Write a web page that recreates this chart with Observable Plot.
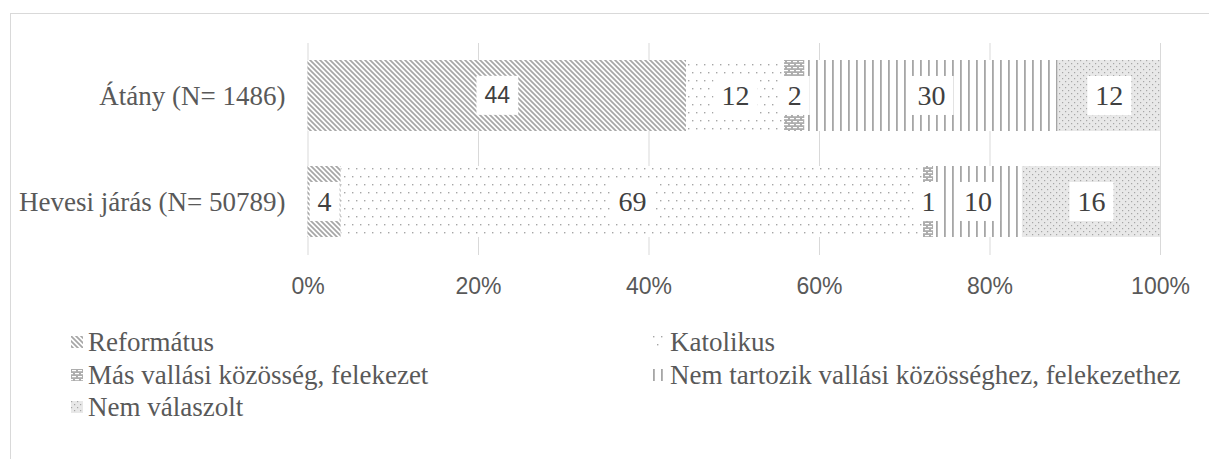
<!DOCTYPE html>
<html><head><meta charset="utf-8">
<script src="https://cdn.jsdelivr.net/npm/d3@7"></script>
<script src="https://cdn.jsdelivr.net/npm/@observablehq/plot@0.6"></script>
<style>
html,body{margin:0;padding:0;background:#fff;overflow:hidden;}
#frame{position:absolute;left:10px;top:13px;width:1400px;height:800px;border-left:1px solid #d9d9d9;border-top:1px solid #d9d9d9;pointer-events:none;}
#chart{position:relative;}
.legend{position:relative;display:grid;grid-template-columns:582px auto;margin-left:71px;margin-top:16px;font-family:"Liberation Serif","Times New Roman",serif;font-size:27px;color:#595959;line-height:32.5px;}
.item{display:flex;align-items:center;white-space:nowrap;}
.item svg{margin-right:5px;flex:none;}
</style></head><body>
<div id="frame"></div>
<div id="chart"></div>
<div class="legend" id="legend"></div>
<script>
const categories = ["Átány (N= 1486)", "Hevesi járás (N= 50789)"];
const types = ["Református", "Katolikus", "Más vallási közösség, felekezet", "Nem tartozik vallási közösséghez, felekezethez", "Nem válaszolt"];
const atanyValues = [44.4, 11.5, 2.4, 29.7, 12.0];
const hevesValues = [3.9, 68.3, 1.2, 10.4, 16.2];
const atanyLabels = ["44", "12", "2", "30", "12"];
const hevesLabels = ["4", "69", "1", "10", "16"];
const xTicks = [0, 20, 40, 60, 80, 100];
const patternIds = ["pRef", "pKat", "pMas", "pNem", "pNv"];

const rows = [];
[[atanyValues, atanyLabels], [hevesValues, hevesLabels]].forEach(([vals, labs], ci) => {
  types.forEach((t, ti) => rows.push({cat: categories[ci], type: t, value: vals[ti], label: labs[ti]}));
});
const isSans = d => d.cat === categories[0] && d.type === types[0];
const stackOpts = o => Plot.stackX({x: "value", y: "cat", z: "type", order: types, ...o});

const plot = Plot.plot({
  width: 1209, height: 310,
  marginTop: 43, marginBottom: 55, marginLeft: 307.5, marginRight: 49,
  style: {background: "transparent", overflow: "visible"},
  x: {domain: [0, 100], label: null},
  y: {domain: categories, paddingInner: 0.33, paddingOuter: 0.165, label: null},
  color: {type: "ordinal", domain: types, range: patternIds.map(id => `url(#${id})`)},
  marks: [
    Plot.gridX({ticks: xTicks, stroke: "#d9d9d9", strokeOpacity: 1, strokeWidth: 1}),
    Plot.barX(rows, stackOpts({fill: "type"})),
    Plot.axisX({ticks: xTicks, label: null, tickSize: 0, tickPadding: 22, tickFormat: d => d + "%", fontSize: 23, fontFamily: "Liberation Sans, Arial, sans-serif", fill: "#595959"}),
    Plot.axisY({label: null, tickSize: 0, tickPadding: 22.5, fontSize: 27, fontFamily: "Liberation Serif, Times New Roman, serif", fill: "#595959"}),
    Plot.text(rows, stackOpts({text: d => isSans(d) ? undefined : d.label, fontSize: 28, fontFamily: "Liberation Serif, Times New Roman, serif", fill: "#404040"})),
    Plot.text(rows, stackOpts({text: d => isSans(d) ? d.label : undefined, fontSize: 23, fontFamily: "Liberation Sans, Arial, sans-serif", fill: "#404040"}))
  ]
});
document.getElementById("chart").appendChild(plot);

// patterns
const svg = d3.select(plot);
const defs = svg.insert("defs", ":first-child");
const G = "#a6a6a6";
// Református: downward diagonal
let p = defs.append("pattern").attr("id", "pRef").attr("patternUnits", "userSpaceOnUse").attr("width", 5).attr("height", 5);
p.append("rect").attr("width", 5).attr("height", 5).attr("fill", "#fff");
p.append("path").attr("d", "M-1,-1L6,6M-1,4L1,6M4,-1L6,1").attr("stroke", G).attr("stroke-width", 1.7);
// Katolikus: sparse dots
p = defs.append("pattern").attr("id", "pKat").attr("patternUnits", "userSpaceOnUse").attr("width", 8).attr("height", 16);
p.append("rect").attr("width", 8).attr("height", 16).attr("fill", "#fff");
p.append("rect").attr("x", 0).attr("y", 0).attr("width", 1.4).attr("height", 1.4).attr("fill", G);
p.append("rect").attr("x", 4).attr("y", 8).attr("width", 1.4).attr("height", 1.4).attr("fill", G);
// Más: brick
p = defs.append("pattern").attr("id", "pMas").attr("patternUnits", "userSpaceOnUse").attr("width", 6).attr("height", 6);
p.append("rect").attr("width", 6).attr("height", 6).attr("fill", "#adadad");
p.append("rect").attr("x", 1).attr("y", 1).attr("width", 4).attr("height", 1.2).attr("fill", "#fff");
p.append("rect").attr("x", -2).attr("y", 4).attr("width", 4).attr("height", 1.2).attr("fill", "#fff");
p.append("rect").attr("x", 4).attr("y", 4).attr("width", 4).attr("height", 1.2).attr("fill", "#fff");
// Nem tartozik: vertical lines
p = defs.append("pattern").attr("id", "pNem").attr("patternUnits", "userSpaceOnUse").attr("width", 8).attr("height", 8);
p.append("rect").attr("width", 8).attr("height", 8).attr("fill", "#fff");
p.append("rect").attr("x", 0).attr("width", 1.8).attr("height", 8).attr("fill", G);
// Nem válaszolt: light gray with dots
p = defs.append("pattern").attr("id", "pNv").attr("patternUnits", "userSpaceOnUse").attr("width", 6).attr("height", 6);
p.append("rect").attr("width", 6).attr("height", 6).attr("fill", "#e8e8e8");
p.append("rect").attr("x", 0).attr("y", 0).attr("width", 1.2).attr("height", 1.2).attr("fill", G);
p.append("rect").attr("x", 3).attr("y", 3).attr("width", 1.2).attr("height", 1.2).attr("fill", G);

// white boxes behind value labels
svg.selectAll('g[aria-label="text"] text').each(function () {
  const b = this.getBBox();
  if (!b.width) return;
  const r = document.createElementNS("http://www.w3.org/2000/svg", "rect");
  const w = b.width + 16, h = 39;
  r.setAttribute("x", b.x + b.width / 2 - w / 2);
  r.setAttribute("y", b.y + b.height / 2 - h / 2);
  r.setAttribute("width", w);
  r.setAttribute("height", h);
  r.setAttribute("fill", "#fff");
  const tr = this.getAttribute("transform");
  if (tr) r.setAttribute("transform", tr);
  this.parentNode.insertBefore(r, this);
});

// legend
const legend = d3.select("#legend");
types.forEach((t, i) => {
  const it = legend.append("div").attr("class", "item");
  const s = it.append("svg").attr("width", 12).attr("height", 12);
  s.append("rect").attr("width", 12).attr("height", 12).attr("fill", `url(#${patternIds[i]})`);
  it.append("span").text(t);
});
</script></body></html>
